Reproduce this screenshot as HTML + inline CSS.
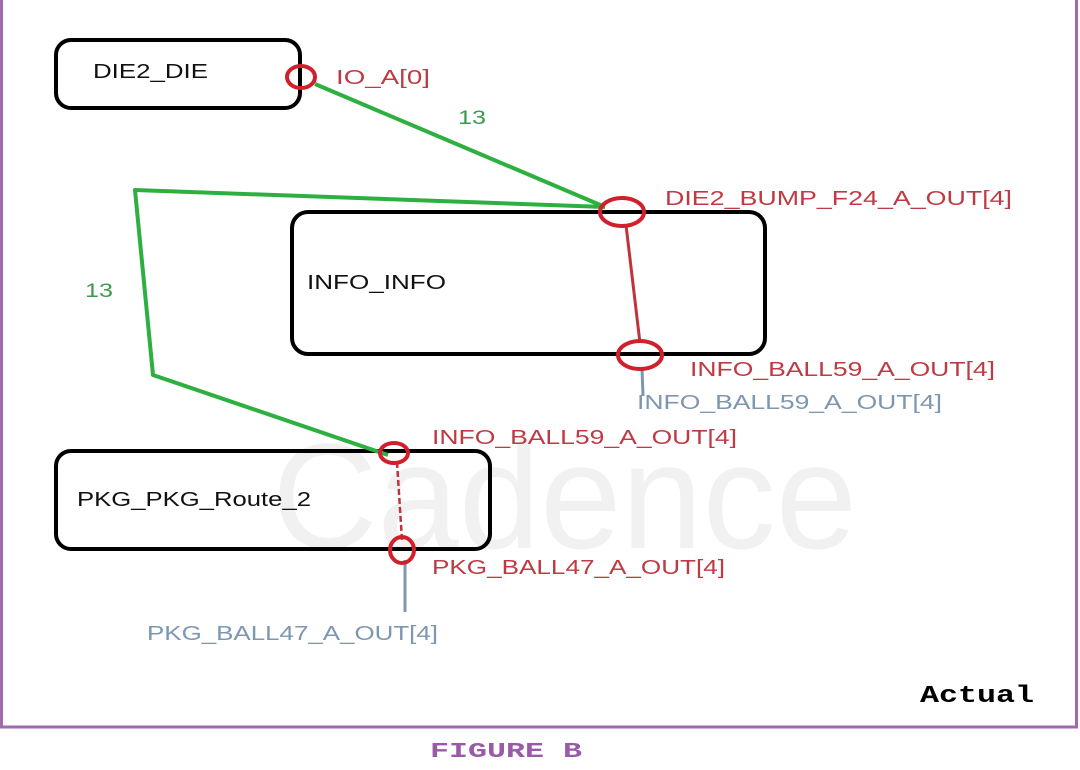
<!DOCTYPE html>
<html><head><style>
body{margin:0;background:#fff;}
svg{display:block;}
</style></head><body>
<svg width="1080" height="770" viewBox="0 0 1080 770" xmlns="http://www.w3.org/2000/svg" font-family="Liberation Sans, sans-serif">
<rect x="0" y="0" width="1080" height="770" fill="#fff"/>
<rect x="1.5" y="-2" width="1075" height="729" fill="none" stroke="#a06ab0" stroke-width="3"/>
<text x="272" y="548" font-size="150" fill="#f1f1f1" textLength="585" lengthAdjust="spacingAndGlyphs">Cadence</text>
<rect x="56" y="40" width="244" height="68" rx="15" fill="none" stroke="#000" stroke-width="4"/>
<rect x="292" y="212" width="473" height="142" rx="16" fill="none" stroke="#000" stroke-width="4"/>
<rect x="56" y="451" width="434" height="98" rx="15" fill="none" stroke="#000" stroke-width="4"/>
<g stroke="#2db040" stroke-width="4" fill="none" stroke-linejoin="round">
<line x1="315" y1="84" x2="605" y2="207"/>
<polyline points="605,207 135,190 153,375 388,455"/>
</g>
<line x1="626" y1="225" x2="640" y2="343" stroke="#c0323c" stroke-width="3"/>
<line x1="397" y1="462" x2="402" y2="540" stroke="#c0323c" stroke-width="2.5" stroke-dasharray="6,3"/>
<line x1="642" y1="368" x2="643" y2="396" stroke="#7d97b0" stroke-width="3"/>
<line x1="405" y1="560" x2="405" y2="612" stroke="#7d97b0" stroke-width="3"/>
<g fill="none" stroke="#d0202c" stroke-width="4">
<ellipse cx="301" cy="77" rx="14" ry="11"/>
<ellipse cx="622" cy="212" rx="22" ry="14"/>
<ellipse cx="640" cy="355" rx="22" ry="14"/>
<ellipse cx="394" cy="453" rx="14" ry="10"/>
<ellipse cx="402" cy="550" rx="12" ry="13"/>
</g>
<g font-size="20" fill="#c03a44">
<text x="336" y="84" textLength="94" lengthAdjust="spacingAndGlyphs">IO_A[0]</text>
<text x="665" y="205" textLength="347" lengthAdjust="spacingAndGlyphs">DIE2_BUMP_F24_A_OUT[4]</text>
<text x="690" y="376" textLength="305" lengthAdjust="spacingAndGlyphs">INFO_BALL59_A_OUT[4]</text>
<text x="432" y="444" textLength="305" lengthAdjust="spacingAndGlyphs">INFO_BALL59_A_OUT[4]</text>
<text x="432" y="574" textLength="293" lengthAdjust="spacingAndGlyphs">PKG_BALL47_A_OUT[4]</text>
</g>
<g font-size="20" fill="#7d97b0">
<text x="637" y="409" textLength="305" lengthAdjust="spacingAndGlyphs">INFO_BALL59_A_OUT[4]</text>
<text x="147" y="640" textLength="291" lengthAdjust="spacingAndGlyphs">PKG_BALL47_A_OUT[4]</text>
</g>
<g font-size="19" fill="#3a9a50">
<text x="458" y="124" textLength="28" lengthAdjust="spacingAndGlyphs">13</text>
<text x="85" y="297" textLength="28" lengthAdjust="spacingAndGlyphs">13</text>
</g>
<g font-size="20" fill="#111">
<text x="93" y="78" textLength="115" lengthAdjust="spacingAndGlyphs">DIE2_DIE</text>
<text x="307" y="289" textLength="139" lengthAdjust="spacingAndGlyphs">INFO_INFO</text>
<text x="77" y="506" textLength="234" lengthAdjust="spacingAndGlyphs">PKG_PKG_Route_2</text>
</g>
<text x="920" y="702" style="font-family:'Liberation Mono',monospace" font-weight="bold" font-size="24" fill="#000" textLength="114" lengthAdjust="spacingAndGlyphs">Actual</text>
<text x="430" y="757" style="font-family:'Liberation Mono',monospace" font-weight="bold" font-size="21" fill="#9a5aa8" textLength="152" lengthAdjust="spacingAndGlyphs">FIGURE B</text>
</svg>
</body></html>
